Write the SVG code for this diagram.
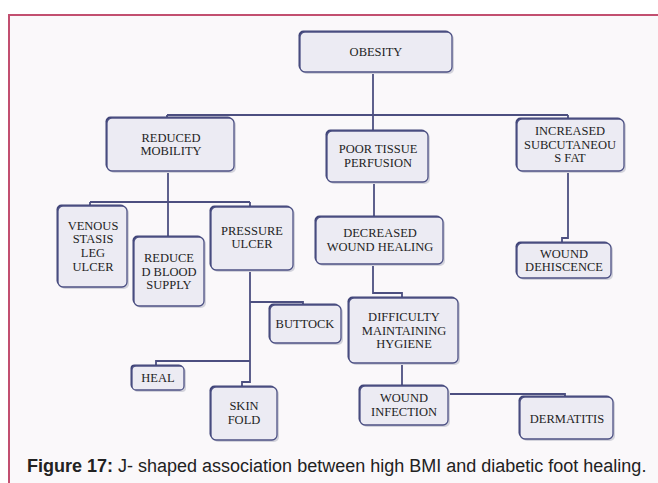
<svg xmlns="http://www.w3.org/2000/svg" width="658" height="483" viewBox="0 0 658 483">
<style>
.bg{fill:#faf8fa;stroke:#c24f70;stroke-width:2}
.sh{fill:#d3d3dc}
.dk{fill:#3f4377}
.bx{fill:#ecebf3;stroke:#4d5184;stroke-width:1.3}
.t{font-family:"Liberation Serif","Times New Roman",serif;font-size:12.5px;fill:#1e1e24;text-anchor:middle}
.c{fill:none;stroke:#4c4f80;stroke-width:1.8}
.cap{font-family:"Liberation Sans",Arial,sans-serif;font-size:18px;fill:#222222}
</style>
<rect x="0" y="0" width="658" height="483" fill="#ffffff"/>
<rect class="bg" x="9" y="15" width="660" height="480"/>

<g id="connectors">
<path class="c" d="M373 72 V131"/>
<path class="c" d="M167 115 H568"/>
<path class="c" d="M167 115 V118"/>
<path class="c" d="M568 115 V119"/>
<path class="c" d="M168 171 V237"/>
<path class="c" d="M90 202 H250"/>
<path class="c" d="M90 202 V206"/>
<path class="c" d="M250 202 V207"/>
<path class="c" d="M250 270 V382 H242 V387"/>
<path class="c" d="M250 302 H303 V305"/>
<path class="c" d="M250 361 H156 V366"/>
<path class="c" d="M374 182 V217"/>
<path class="c" d="M373 264 V293 H402 V298"/>
<path class="c" d="M402 363 V386"/>
<path class="c" d="M448 394 H565 V397"/>
<path class="c" d="M568 171 V238 H562 V243"/>
</g>

<g id="obesity">
<rect class="sh" x="302" y="34" width="152" height="40" rx="5"/>
<rect class="dk" x="298.5" y="30.5" width="152" height="40" rx="5"/>
<rect class="bx" x="300" y="32" width="152" height="40" rx="5"/>
<text class="t" x="376" y="56">OBESITY</text>
</g>

<g id="reduced-mobility">
<rect class="sh" x="109" y="120" width="127" height="53" rx="5"/>
<rect class="dk" x="105.5" y="116.5" width="127" height="53" rx="5"/>
<rect class="bx" x="107" y="118" width="127" height="53" rx="5"/>
<text class="t" x="171" y="142">REDUCED</text>
<text class="t" x="171" y="155">MOBILITY</text>
</g>

<g id="poor-tissue-perfusion">
<rect class="sh" x="329" y="133" width="101" height="51" rx="5"/>
<rect class="dk" x="325.5" y="129.5" width="101" height="51" rx="5"/>
<rect class="bx" x="327" y="131" width="101" height="51" rx="5"/>
<text class="t" x="378" y="153">POOR TISSUE</text>
<text class="t" x="378" y="167">PERFUSION</text>
</g>

<g id="increased-subcutaneous-fat">
<rect class="sh" x="519" y="121" width="107" height="52" rx="5"/>
<rect class="dk" x="515.5" y="117.5" width="107" height="52" rx="5"/>
<rect class="bx" x="517" y="119" width="107" height="52" rx="5"/>
<text class="t" x="570" y="135">INCREASED</text>
<text class="t" x="570" y="149">SUBCUTANEOU</text>
<text class="t" x="570" y="162">S FAT</text>
</g>

<g id="venous-stasis">
<rect class="sh" x="60" y="208" width="69" height="81" rx="5"/>
<rect class="dk" x="56.5" y="204.5" width="69" height="81" rx="5"/>
<rect class="bx" x="58" y="206" width="69" height="81" rx="5"/>
<text class="t" x="93" y="230">VENOUS</text>
<text class="t" x="93" y="243">STASIS</text>
<text class="t" x="93" y="257">LEG</text>
<text class="t" x="93" y="271">ULCER</text>
</g>

<g id="reduced-blood-supply">
<rect class="sh" x="136" y="239" width="70" height="69" rx="5"/>
<rect class="dk" x="132.5" y="235.5" width="70" height="69" rx="5"/>
<rect class="bx" x="134" y="237" width="70" height="69" rx="5"/>
<text class="t" x="169" y="262">REDUCE</text>
<text class="t" x="169" y="276">D BLOOD</text>
<text class="t" x="169" y="289">SUPPLY</text>
</g>

<g id="pressure-ulcer">
<rect class="sh" x="213" y="209" width="82" height="63" rx="5"/>
<rect class="dk" x="209.5" y="205.5" width="82" height="63" rx="5"/>
<rect class="bx" x="211" y="207" width="82" height="63" rx="5"/>
<text class="t" x="252" y="235">PRESSURE</text>
<text class="t" x="252" y="248">ULCER</text>
</g>

<g id="decreased-wound-healing">
<rect class="sh" x="318" y="219" width="127" height="47" rx="5"/>
<rect class="dk" x="314.5" y="215.5" width="127" height="47" rx="5"/>
<rect class="bx" x="316" y="217" width="127" height="47" rx="5"/>
<text class="t" x="380" y="237">DECREASED</text>
<text class="t" x="380" y="251">WOUND HEALING</text>
</g>

<g id="wound-dehiscence">
<rect class="sh" x="519" y="245" width="94" height="35" rx="5"/>
<rect class="dk" x="515.5" y="241.5" width="94" height="35" rx="5"/>
<rect class="bx" x="517" y="243" width="94" height="35" rx="5"/>
<text class="t" x="564" y="258">WOUND</text>
<text class="t" x="564" y="271">DEHISCENCE</text>
</g>

<g id="buttock">
<rect class="sh" x="272" y="307" width="71" height="38" rx="5"/>
<rect class="dk" x="268.5" y="303.5" width="71" height="38" rx="5"/>
<rect class="bx" x="270" y="305" width="71" height="38" rx="5"/>
<text class="t" x="305" y="328">BUTTOCK</text>
</g>

<g id="difficulty-hygiene">
<rect class="sh" x="351" y="300" width="109" height="65" rx="5"/>
<rect class="dk" x="347.5" y="296.5" width="109" height="65" rx="5"/>
<rect class="bx" x="349" y="298" width="109" height="65" rx="5"/>
<text class="t" x="404" y="321">DIFFICULTY</text>
<text class="t" x="404" y="335">MAINTAINING</text>
<text class="t" x="404" y="348">HYGIENE</text>
</g>

<g id="heal">
<rect class="sh" x="134" y="368" width="52" height="24" rx="4"/>
<rect class="dk" x="130.5" y="364.5" width="52" height="24" rx="4"/>
<rect class="bx" x="132" y="366" width="52" height="24" rx="4"/>
<text class="t" x="158" y="382">HEAL</text>
</g>

<g id="skin-fold">
<rect class="sh" x="213" y="389" width="66" height="53" rx="5"/>
<rect class="dk" x="209.5" y="385.5" width="66" height="53" rx="5"/>
<rect class="bx" x="211" y="387" width="66" height="53" rx="5"/>
<text class="t" x="244" y="410">SKIN</text>
<text class="t" x="244" y="424">FOLD</text>
</g>

<g id="wound-infection">
<rect class="sh" x="362" y="388" width="88" height="39" rx="5"/>
<rect class="dk" x="358.5" y="384.5" width="88" height="39" rx="5"/>
<rect class="bx" x="360" y="386" width="88" height="39" rx="5"/>
<text class="t" x="404" y="402">WOUND</text>
<text class="t" x="404" y="416">INFECTION</text>
</g>

<g id="dermatitis">
<rect class="sh" x="522" y="399" width="93" height="42" rx="5"/>
<rect class="dk" x="518.5" y="395.5" width="93" height="42" rx="5"/>
<rect class="bx" x="520" y="397" width="93" height="42" rx="5"/>
<text class="t" x="567" y="423">DERMATITIS</text>
</g>

<text class="cap" x="27" y="472"><tspan font-weight="bold">Figure 17:</tspan> J- shaped association between high BMI and diabetic foot healing.</text>
</svg>
